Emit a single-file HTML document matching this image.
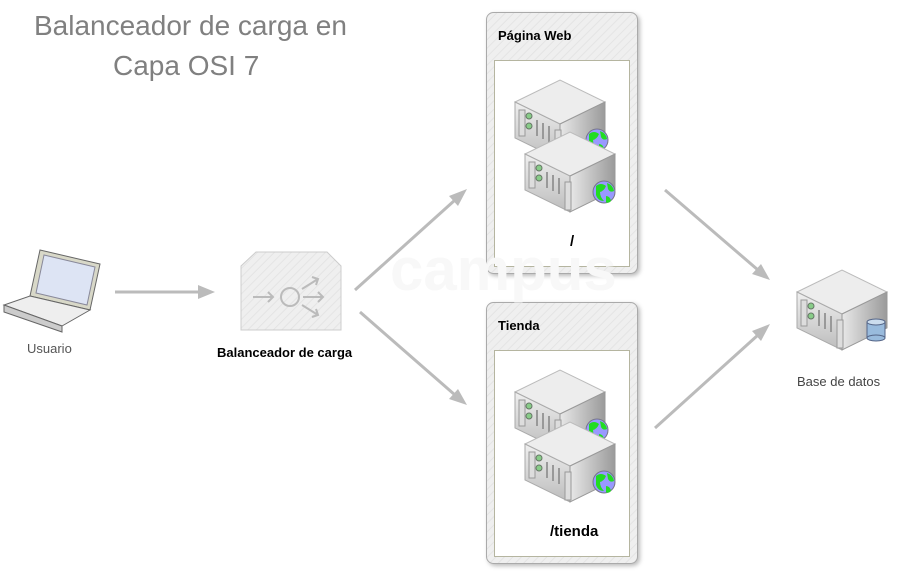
<!DOCTYPE html>
<html><head><meta charset="utf-8"><style>
body{margin:0;width:902px;height:571px;background:#fff;overflow:hidden;position:relative;font-family:"Comic Sans MS","Liberation Sans",sans-serif}
.t{position:absolute;white-space:nowrap}
</style></head><body>
<svg width="902" height="571" style="position:absolute;left:0;top:0">
<defs>
<linearGradient id="g1" x1="0" y1="0" x2="0" y2="1"><stop offset="0" stop-color="#f0f0f0"/><stop offset="1" stop-color="#bcbcbc"/></linearGradient>
<linearGradient id="g2" x1="0" y1="0" x2="1" y2="0"><stop offset="0" stop-color="#e8e8e8"/><stop offset="1" stop-color="#9a9a9a"/></linearGradient>
<g id="srv">
<polygon points="0,22 45,0 90,22 45,44" fill="#ededed" stroke="#bbb"/>
<polygon points="0,22 45,44 45,80 0,58" fill="url(#g1)" stroke="#aaa"/>
<polygon points="45,44 90,22 90,58 45,80" fill="url(#g2)" stroke="#999"/>
<rect x="4" y="30" width="6" height="26" fill="#ddd" stroke="#999"/>
<circle cx="14" cy="36" r="3" fill="#8c8" stroke="#676"/>
<circle cx="14" cy="46" r="3" fill="#8c8" stroke="#676"/>
<g stroke="#999" stroke-width="2"><line x1="22" y1="40" x2="22" y2="56"/><line x1="28" y1="43" x2="28" y2="59"/><line x1="34" y1="46" x2="34" y2="62"/></g>
<rect x="40" y="50" width="6" height="28" fill="#ddd" stroke="#999"/>
</g>
<g id="globe"><circle r="11" fill="#99f" stroke="#778"/><path d="M-8,-6 q5,-4 10,0 q-2,5 -6,6 q0,5 4,9 q-6,0 -8,-6z M3,-9 q6,2 7,8 q-4,2 -6,-2z M2,4 q4,0 5,5 q-3,3 -5,1z" fill="#2d2"/></g>
<pattern id="hatch" width="6" height="6" patternUnits="userSpaceOnUse" patternTransform="rotate(45)"><rect width="6" height="6" fill="#efefef"/><line x1="0" y1="0" x2="0" y2="6" stroke="#e4e4e4" stroke-width="2"/></pattern>
</defs>
<rect x="486.5" y="12.5" width="151" height="261" rx="7" fill="url(#hatch)" stroke="#aaa" style="filter:drop-shadow(2px 2px 2px #bbb)"/>
<rect x="494.5" y="60.5" width="135" height="206" fill="#fff" stroke="#b5b5a0"/>
<rect x="486.5" y="302.5" width="151" height="261" rx="7" fill="url(#hatch)" stroke="#aaa" style="filter:drop-shadow(2px 2px 2px #bbb)"/>
<rect x="494.5" y="350.5" width="135" height="206" fill="#fff" stroke="#b5b5a0"/>
<text x="390" y="290" font-size="60" font-weight="bold" fill="#f8f8f8" font-family="Liberation Sans">campus</text>
<use href="#srv" x="515" y="80"/><use href="#globe" x="597" y="140"/>
<use href="#srv" x="525" y="132"/><use href="#globe" x="604" y="192"/>
<use href="#srv" x="515" y="370"/><use href="#globe" x="597" y="430"/>
<use href="#srv" x="525" y="422"/><use href="#globe" x="604" y="482"/>
<use href="#srv" x="797" y="270"/>
<g transform="translate(876,330)"><rect x="-9" y="-8" width="18" height="16" fill="#9bd" stroke="#568"/><ellipse cx="0" cy="-8" rx="9" ry="3" fill="#cde" stroke="#568"/><ellipse cx="0" cy="8" rx="9" ry="3" fill="#9bd" stroke="#568"/></g>
<polygon points="40,250 100,264 90,310 30,296" fill="#d8d8c8" stroke="#666"/>
<polygon points="44,255 95,267 87,305 36,293" fill="#dde4f4" stroke="#889"/>
<polygon points="30,296 90,310 62,326 4,305" fill="#eee" stroke="#666"/>
<polygon points="4,305 62,326 62,332 4,312" fill="#ccc" stroke="#666"/>
<polygon points="241,266 256,252 327,252 341,266 341,330 241,330" fill="url(#hatch)" stroke="#ccc"/>
<g stroke="#bbb" fill="none" stroke-width="2"><circle cx="290" cy="297" r="9"/><path d="M253,297h20M268,292l5,5-5,5M303,297h20M318,292l5,5-5,5M302,289l16,-10M312,277l6,2-2,6M302,305l16,10M316,309l2,6-6,2"/></g>
<g stroke="#bbb" stroke-width="3" fill="#bbb">
<line x1="115" y1="292" x2="200" y2="292"/><polygon points="215,292 198,285 198,299" stroke="none"/>
<line x1="355" y1="290" x2="455" y2="200"/><polygon points="467,189 449,196 458,206" stroke="none"/>
<line x1="360" y1="312" x2="455" y2="395"/><polygon points="467,405 458,389 449,399" stroke="none"/>
<line x1="665" y1="190" x2="758" y2="270"/><polygon points="770,280 761,264 752,274" stroke="none"/>
<line x1="655" y1="428" x2="758" y2="335"/><polygon points="770,324 752,331 761,341" stroke="none"/>
</g>
</svg>
<div class="t" style="left:34px;top:10px;font-size:28px;color:#808080">Balanceador de carga en</div>
<div class="t" style="left:113px;top:50px;font-size:28px;color:#808080">Capa OSI 7</div>
<div class="t" style="left:498px;top:28px;font-size:13px;font-weight:bold">Página Web</div>
<div class="t" style="left:498px;top:318px;font-size:13px;font-weight:bold">Tienda</div>
<div class="t" style="left:570px;top:233px;font-size:15px;font-weight:bold">/</div>
<div class="t" style="left:550px;top:523px;font-size:15px;font-weight:bold">/tienda</div>
<div class="t" style="left:27px;top:341px;font-size:13px;color:#555">Usuario</div>
<div class="t" style="left:217px;top:345px;font-size:13px;font-weight:bold">Balanceador de carga</div>
<div class="t" style="left:797px;top:374px;font-size:13px;color:#444">Base de datos</div>
</body></html>
